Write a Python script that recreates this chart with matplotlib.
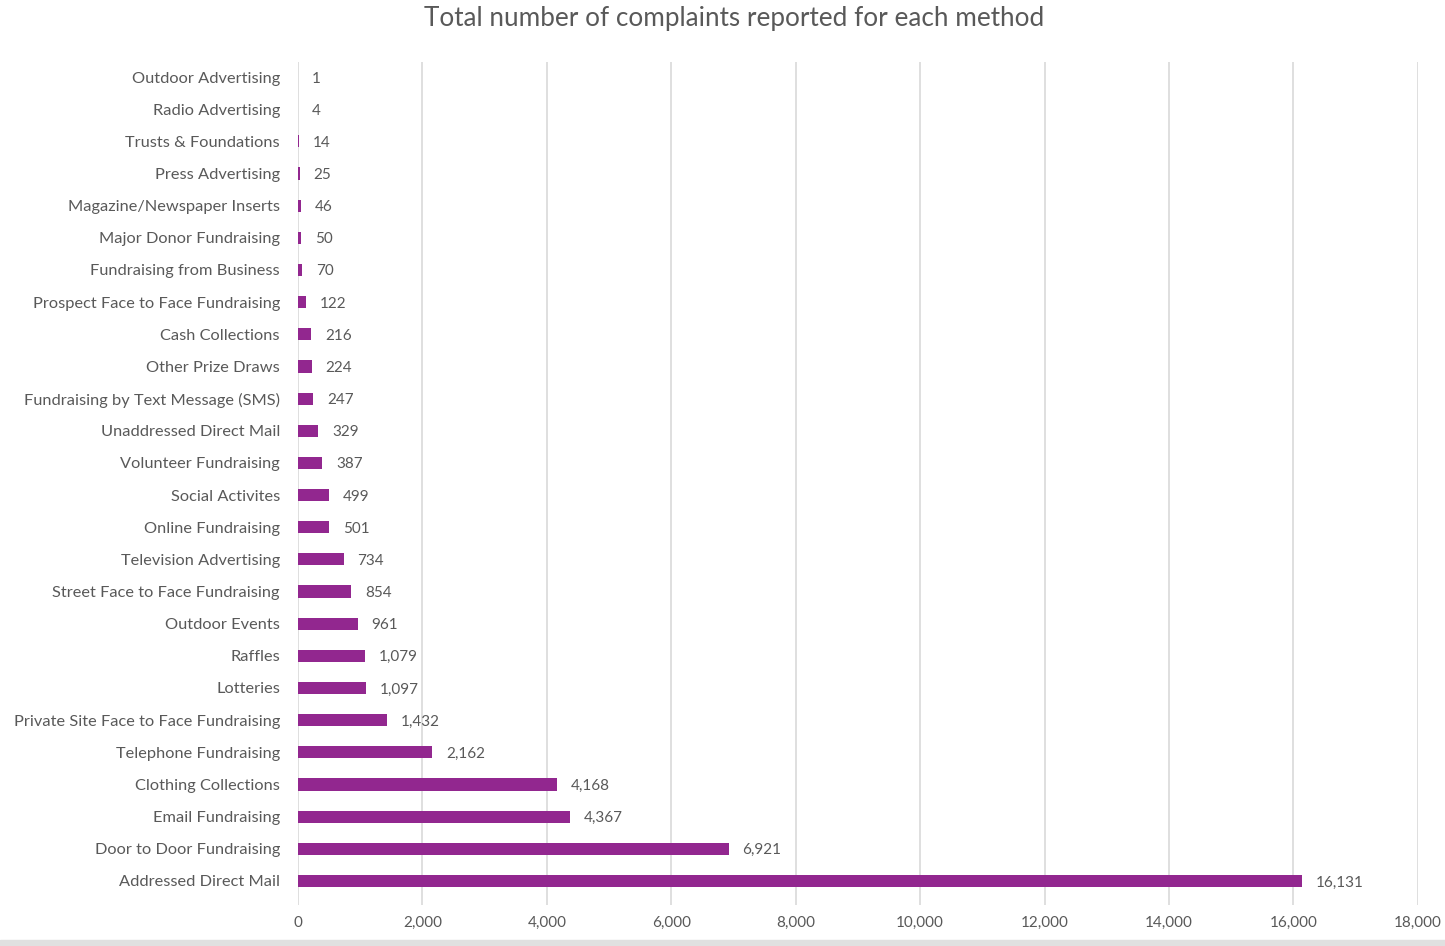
import numpy as np
import matplotlib.pyplot as plt
from matplotlib.patches import Rectangle

# complaint counts per fundraising method, listed top to bottom
methods = [
    'Outdoor Advertising', 'Radio Advertising', 'Trusts & Foundations',
    'Press Advertising', 'Magazine/Newspaper Inserts', 'Major Donor Fundraising',
    'Fundraising from Business', 'Prospect Face to Face Fundraising',
    'Cash Collections', 'Other Prize Draws', 'Fundraising by Text Message (SMS)',
    'Unaddressed Direct Mail', 'Volunteer Fundraising', 'Social Activites',
    'Online Fundraising', 'Television Advertising', 'Street Face to Face Fundraising',
    'Outdoor Events', 'Raffles', 'Lotteries', 'Private Site Face to Face Fundraising',
    'Telephone Fundraising', 'Clothing Collections', 'Email Fundraising',
    'Door to Door Fundraising', 'Addressed Direct Mail',
]
complaints = [1, 4, 14, 25, 46, 50, 70, 122, 216, 224, 247, 329, 387, 499,
              501, 734, 854, 961, 1079, 1097, 1432, 2162, 4168, 4367, 6921, 16131]

plt.rcParams['font.family'] = ['Lato', 'DejaVu Sans']
bar_color = '#92278f'
text_color = '#595959'

fig = plt.figure(figsize=(14.45, 9.46), dpi=100)
ax = fig.add_axes([0.2062, 0.0433, 0.775, 0.8912])

# reverse so the first method sits at the top
y = np.arange(len(methods))[::-1]
ax.barh(y, complaints, height=0.38, color=bar_color, zorder=3)

for yi, v in zip(y, complaints):
    ax.annotate(f'{v:,}', (v, yi), xytext=(10, 0), textcoords='offset points',
                va='center_baseline', ha='left', fontsize=11, color=text_color)

ax.set_yticks(y)
ax.set_yticklabels(methods, fontsize=11.8, color=text_color)
ax.set_xlim(0, 18000)
ax.set_ylim(-0.75, len(methods) - 0.53)
ax.set_xticks(np.arange(0, 18001, 2000))
ax.set_xticklabels([f'{t:,}' for t in range(0, 18001, 2000)], fontsize=11, color=text_color)
ax.tick_params(axis='x', length=0, pad=8)
ax.tick_params(axis='y', length=0, pad=13)

ax.grid(axis='x', color='#d9d9d9', linewidth=1.2, zorder=0)
ax.set_axisbelow(True)
for s in ax.spines.values():
    s.set_visible(False)

fig.text(0.508, 0.98, 'Total number of complaints reported for each method',
         ha='center', va='center', fontsize=18.8, color=text_color)

# thin grey strip along the bottom edge
fig.patches.append(Rectangle((0.0, 0.0), 1.0, 0.006, transform=fig.transFigure,
                             color='#e0e0e0', zorder=0))

fig.savefig('out.png', dpi=100)
